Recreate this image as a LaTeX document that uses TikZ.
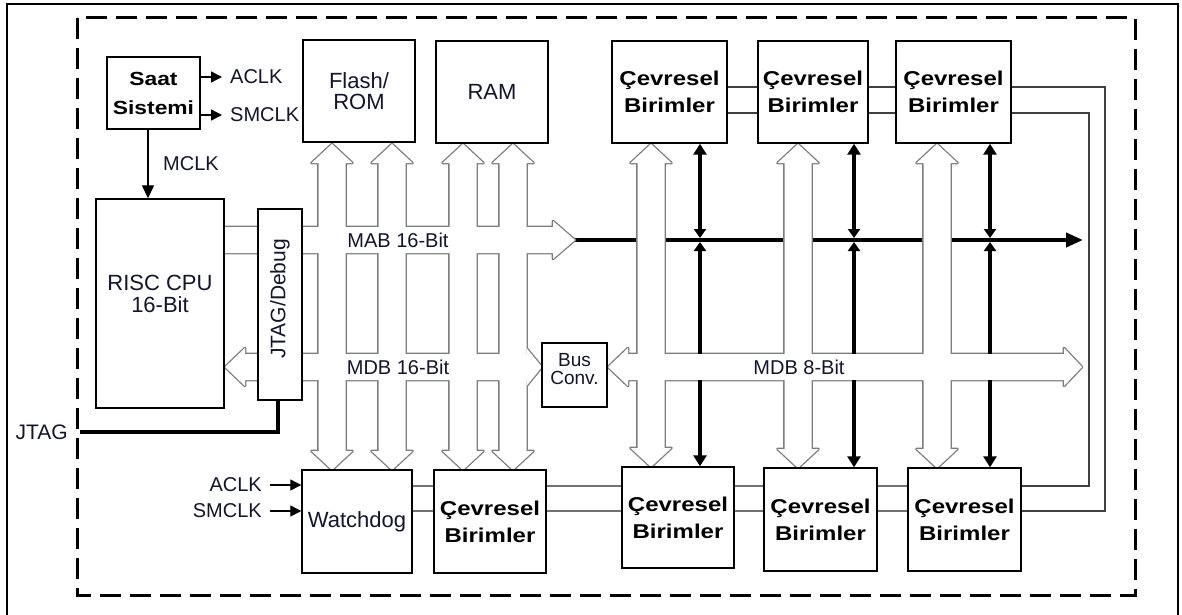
\documentclass[tikz,border=0pt]{standalone}
\usepackage{fontspec}
\usepackage{graphicx}
\setmainfont{Liberation Sans}
\newcommand\wbl[1]{\scalebox{1.2}[1]{#1}}
\newcommand\cbir{\wbl{Çevresel}\\\wbl{Birimler}}
\usetikzlibrary{arrows.meta}
\definecolor{txt}{RGB}{20,20,45}
\definecolor{busc}{RGB}{125,125,125}
\newcommand\drawbusnet[1]{%
  \path[#1] (224,227) -- (553,227) -- (553,221) -- (575,240) -- (553,259) -- (553,253) -- (224,253) -- cycle;
  \path[#1] (225,367) -- (245,348) -- (245,354) -- (526.5,354) -- (526.5,348) -- (542,367) -- (526.5,386) -- (526.5,380) -- (245,380) -- (245,386) -- cycle;
  \path[#1] (608,367) -- (628,348) -- (628,354) -- (1064,354) -- (1064,348) -- (1082,367) -- (1064,386) -- (1064,380) -- (628,380) -- (628,386) -- cycle;
  \foreach \cx/\yt/\yb in {332/144/470,392/144/470,463/144/470,513/144/470,651/144/467,798/144/468,937/144/468}{%
    \path[#1] (\cx-13.5,\yt+19) -- (\cx-20.5,\yt+19) -- (\cx,\yt) -- (\cx+20.5,\yt+19) -- (\cx+13.5,\yt+19) -- (\cx+13.5,\yb-19) -- (\cx+20.5,\yb-19) -- (\cx,\yb) -- (\cx-20.5,\yb-19) -- (\cx-13.5,\yb-19) -- cycle;
  }%
}
\begin{document}
\begin{tikzpicture}[x=1pt,y=-1pt,
  box/.style={draw, line width=1.4pt, fill=white, inner sep=0pt, align=center, text=txt},
  bfw/.style={font=\bfseries\fontsize{20}{27}\selectfont, text=black},
  reg/.style={font=\fontsize{22}{22}\selectfont},
  lab/.style={font=\fontsize{20}{22}\selectfont, text=txt, inner sep=0pt, align=center},
  clk/.style={line width=1.3pt, -{Triangle[length=11pt,width=11pt]}},
  btip/.style={line width=4pt, -{Triangle[length=11pt,width=13pt]}},
  btipb/.style={line width=4pt, {Triangle[length=11pt,width=13pt]}-{Triangle[length=9pt,width=12pt]}},
  conn/.style={line width=1.3pt, draw=black!75}]
\useasboundingbox (0,0) rectangle (1182,615);
\fill[white] (0,0) rectangle (1182,615);
% outer frame
\draw[line width=2.5pt] (7,620) -- (7,4) -- (1178,4) -- (1178,620);
% dashed frame
\draw[line width=3pt, dash pattern=on 21pt off 9pt] (77,18) rectangle (1135,595);

% MAB black line (behind buses)
\coordinate (mabtip) at (575,240);
\coordinate (mabend) at (1083,240);
\draw[line width=4pt, -{Triangle[length=17pt,width=14pt]}] (mabtip) -- (mabend);

% bus network: outline, then fill
\drawbusnet{draw=busc, line width=2.6pt, line join=round}
\drawbusnet{fill=white}

% boxes
\node[box, font=\bfseries\fontsize{19}{29}\selectfont, text=black, minimum width=93pt, minimum height=72pt] (saat) at (153.5,93) {\wbl{Saat}\\\wbl{Sistemi}};
\node[box, font=\fontsize{22}{21}\selectfont, minimum width=112pt, minimum height=102pt] (flash) at (359,91) {Flash/\\ROM};
\node[box, reg, minimum width=112pt, minimum height=102pt] (ram) at (492,92) {RAM};
\node[box, bfw, minimum width=115pt, minimum height=102pt] (pt1) at (669.5,92) {\cbir};
\node[box, bfw, minimum width=110pt, minimum height=102pt] (pt2) at (813,92) {\cbir};
\node[box, bfw, minimum width=115pt, minimum height=102pt] (pt3) at (953.5,92) {\cbir};
\node[box, minimum width=128pt, minimum height=209pt] (cpu) at (160,303.5) {};
\node[reg, text=txt, align=center, inner sep=0pt] (cpul) at (160,294) {RISC CPU\\16-Bit};
\node[box, minimum width=44pt, minimum height=191pt] (jtag) at (280,304.5) {};
\node[lab, font=\fontsize{21}{22}\selectfont, rotate=90] (jtagl) at (280,299) {JTAG/Debug};
\node[box, minimum width=65pt, minimum height=64pt] (bc) at (574.5,375) {};
\node[lab, font=\fontsize{19}{18}\selectfont] (bcl) at (574.5,369) {Bus\\Conv.};
\node[box, reg, minimum width=110pt, minimum height=103pt] (wd) at (357,521.5) {Watchdog};
\node[box, bfw, minimum width=112pt, minimum height=103pt] (b1) at (490,521.5) {\cbir};
\node[box, bfw, minimum width=112pt, minimum height=101pt] (b2) at (678,517.5) {\cbir};
\node[box, bfw, minimum width=113pt, minimum height=103pt] (b3) at (820.5,519.5) {\cbir};
\node[box, bfw, minimum width=113pt, minimum height=103pt] (b4) at (964.5,519.5) {\cbir};

% bus labels
\node[lab] (mabl) at (398,240) {MAB 16-Bit};
\node[lab] (mdb16l) at (398,367) {MDB 16-Bit};
\node[lab] (mdb8l) at (799,367) {MDB 8-Bit};

% clock signals
\coordinate (ac1) at (222,77);
\coordinate (sm1) at (222,115);
\draw[clk] (saat.east |- ac1) -- (ac1);
\draw[clk] (saat.east |- sm1) -- (sm1);
\node[lab, anchor=west] (aclkl) at (230,77) {ACLK};
\node[lab, anchor=west] (smclkl) at (230,115) {SMCLK};
\coordinate (mck) at (148,0);
\draw[line width=1.3pt, -{Triangle[length=13pt,width=12pt]}] (saat.south -| mck) -- (cpu.north -| mck);
\node[lab, anchor=west] (mclkl) at (163,164) {MCLK};
\coordinate (ac2) at (270,485);
\coordinate (sm2) at (270,511);
\draw[clk] (ac2) -- (wd.west |- ac2);
\draw[clk] (sm2) -- (wd.west |- sm2);
\node[lab, anchor=east] (aclk2l) at (262,485) {ACLK};
\node[lab, anchor=east] (smclk2l) at (262,511) {SMCLK};

% JTAG line
\coordinate (jt) at (278,432);
\coordinate (jf) at (80,432);
\draw[line width=4pt] (jtag.south -| jt) -- (jt) -- (jf);
\node[lab, font=\fontsize{21}{22}\selectfont, anchor=east] (jtagext) at (68,432) {JTAG};

% peripheral black lines
\coordinate (m8t) at (0,354);
\coordinate (m8b) at (0,380);
\foreach \v/\t/\b in {700/pt1/b2, 854/pt2/b3, 990/pt3/b4}{
  \coordinate (vv) at (\v,240);
  \draw[btipb, shorten >=2pt] (\t.south -| vv) -- (vv);
  \draw[line width=4pt, {Triangle[length=9pt,width=12pt]}-, shorten <=2pt] (vv) -- (vv |- m8t);
  \draw[btip] (vv |- m8b) -- (\b.north -| vv);
}

% peripheral interconnect lines
\coordinate (ya) at (0,87);
\coordinate (yb) at (0,113);
\coordinate (co) at (1105,511);
\coordinate (ci) at (1089,486);
\draw[conn] (pt1.east |- ya) -- (pt2.west |- ya);
\draw[conn] (pt1.east |- yb) -- (pt2.west |- yb);
\draw[conn] (pt2.east |- ya) -- (pt3.west |- ya);
\draw[conn] (pt2.east |- yb) -- (pt3.west |- yb);
\draw[conn] (pt3.east |- ya) -| (co) -- (b4.east |- co);
\draw[conn] (pt3.east |- yb) -| (ci) -- (b4.east |- ci);
\foreach \a/\b in {wd/b1, b1/b2, b2/b3, b3/b4}{
  \draw[conn, draw=black!55] (\a.east |- ci) -- (\b.west |- ci);
  \draw[conn, draw=black!55] (\a.east |- co) -- (\b.west |- co);
}
\end{tikzpicture}
\end{document}
